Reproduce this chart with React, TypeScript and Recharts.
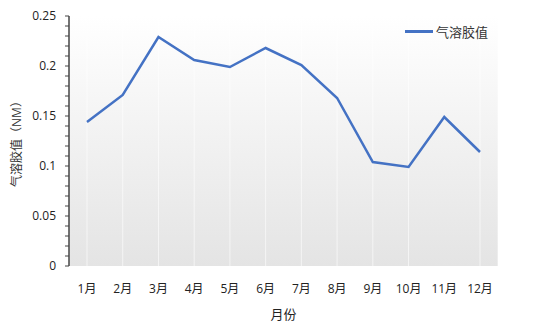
import { CartesianGrid, Label, Line, LineChart, XAxis, YAxis } from "recharts";

const MONTHS = ["1月", "2月", "3月", "4月", "5月", "6月", "7月", "8月", "9月", "10月", "11月", "12月"];
const AEROSOL = [0.144, 0.171, 0.229, 0.206, 0.199, 0.218, 0.201, 0.168, 0.104, 0.099, 0.149, 0.114];
const Y_TICKS = [
  0, 0.01, 0.02, 0.03, 0.04, 0.05, 0.06, 0.07, 0.08, 0.09, 0.1, 0.11, 0.12, 0.13,
  0.14, 0.15, 0.16, 0.17, 0.18, 0.19, 0.2, 0.21, 0.22, 0.23, 0.24, 0.25,
];

const SERIES_NAME = "气溶胶值";
const Y_TITLE = "气溶胶值（NM）";
const X_TITLE = "月份";
const LINE_COLOR = "#4472C4";
const FONT = "'Open Sans', 'Noto Sans CJK SC', sans-serif";

const data = MONTHS.map((m, i) => ({ month: m, value: AEROSOL[i] }));

function yLabel(v: number) {
  const n = Math.round(v * 100);
  if (n % 5 !== 0) return "";
  return String(n / 100);
}

// legend drawn as an overlay so it doesn't eat into the plot area
function LegendBox() {
  return (
    <div
      style={{
        position: "absolute",
        left: 405,
        top: 22,
        display: "flex",
        alignItems: "center",
        fontFamily: "'Noto Sans CJK SC', serif",
        fontSize: 13,
        color: "#333",
      }}
    >
      <span style={{ display: "inline-block", width: 28, height: 3, background: LINE_COLOR, marginRight: 3 }} />
      <span>{SERIES_NAME}</span>
    </div>
  );
}

// rotated y title as an overlay too
function YTitle() {
  return (
    <div
      style={{
        position: "absolute",
        left: 16,
        top: 141,
        transform: "translate(-50%, -50%) rotate(-90deg)",
        whiteSpace: "nowrap",
        fontFamily: FONT,
        fontSize: 12,
        color: "#333",
      }}
    >
      {Y_TITLE}
    </div>
  );
}

export default function App() {
  return (
    <div style={{ position: "absolute", left: 0, top: 0, width: 547, height: 334, background: "#fff" }}>
      <LineChart width={547} height={334} data={data} margin={{ top: 16, right: 49, bottom: 0, left: 0 }}>
        <defs>
          <linearGradient id="bg" x1="0" y1="0" x2="0" y2="1">
            <stop offset="0%" stopColor="#ffffff" />
            <stop offset="100%" stopColor="#e4e4e4" />
          </linearGradient>
        </defs>
        <CartesianGrid horizontal={false} vertical fill="url(#bg)" stroke="rgba(255,255,255,0.6)" />
        <XAxis
          dataKey="month"
          height={68}
          padding={{ left: 18, right: 18 }}
          axisLine={false}
          tickLine={false}
          tickMargin={12}
          tick={{ fontSize: 12, fill: "#222", fontFamily: FONT }}
        >
          <Label value={X_TITLE} position="insideBottom" offset={15} fill="#222" style={{ fontSize: 13, fontFamily: FONT }} />
        </XAxis>
        <YAxis
          width={69}
          domain={[0, 0.25]}
          ticks={Y_TICKS}
          interval={0}
          tickFormatter={yLabel}
          axisLine={{ stroke: "#444", strokeWidth: 1.5 }}
          tickLine={{ stroke: "#444" }}
          tickSize={4}
          tickMargin={9}
          tick={{ fontSize: 12, fill: "#222", fontFamily: FONT }}
        />
        <Line
          type="linear"
          dataKey="value"
          name={SERIES_NAME}
          stroke={LINE_COLOR}
          strokeWidth={2.5}
          dot={false}
          activeDot={false}
          isAnimationActive={false}
        />
      </LineChart>
      <YTitle />
      <LegendBox />
    </div>
  );
}
